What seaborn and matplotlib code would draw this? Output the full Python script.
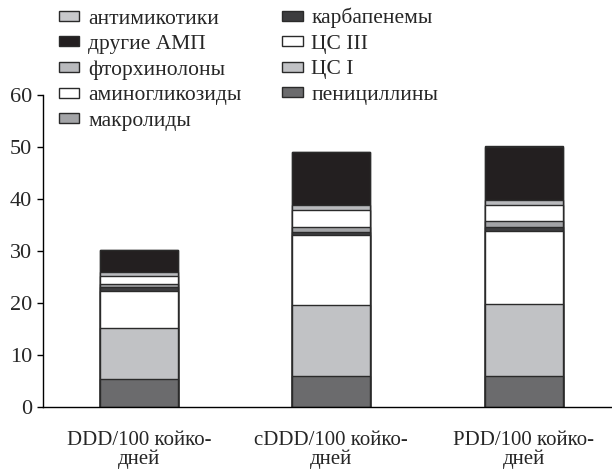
import matplotlib
matplotlib.use("Agg")
import matplotlib.pyplot as plt
import matplotlib.patches as mpatches
import numpy as np
import pandas as pd
import seaborn as sns

# metrics on the x axis
metrics = ["DDD/100 койко-\nдней", "cDDD/100 койко-\nдней", "PDD/100 койко-\nдней"]

# stacked layers, bottom to top
penicillins = [5.4, 6.0, 5.9]
cs1 = [9.8, 13.7, 14.0]
cs3 = [7.2, 13.4, 14.0]
carbapenems = [0.6, 0.6, 0.8]
macrolides = [0.7, 1.0, 1.0]
aminoglycosides = [1.4, 3.2, 3.2]
fluoroquinolones = [0.9, 1.0, 0.9]
other_amp = [4.1, 10.1, 10.2]
antimycotics = [0.1, 0.1, 0.1]

layers = [
    ("пенициллины", penicillins, "#6b6b6d"),
    ("ЦС I", cs1, "#c1c2c5"),
    ("ЦС III", cs3, "#ffffff"),
    ("карбапенемы", carbapenems, "#3c3c3e"),
    ("макролиды", macrolides, "#a3a4a7"),
    ("аминогликозиды", aminoglycosides, "#ffffff"),
    ("фторхинолоны", fluoroquinolones, "#b9babd"),
    ("другие АМП", other_amp, "#231f20"),
    ("антимикотики", antimycotics, "#c8c9cc"),
]

sns.set_style("white")
plt.rcParams["font.family"] = ["Liberation Serif", "DejaVu Serif"]
plt.rcParams["font.size"] = 15

fig = plt.figure(figsize=(6.12, 4.72), dpi=100)
ax = fig.add_axes([43 / 612, 65 / 472, 1 - 43 / 612, 312 / 472])

# draw cumulative totals from the top layer down so each layer covers the rest
cum = np.cumsum(np.array([l[1] for l in layers]), axis=0)
for i in range(len(layers) - 1, -1, -1):
    df = pd.DataFrame({"metric": metrics, "value": cum[i]})
    sns.barplot(data=df, x="metric", y="value", color=layers[i][2],
                saturation=1, width=0.405, edgecolor="#2a2a2a",
                linewidth=1.0, ax=ax)

ax.set_ylim(0, 60)
ax.set_xlim(-0.5, 2.46)
ax.set_yticks(range(0, 61, 10))
ax.set_xlabel("")
ax.set_ylabel("")
sns.despine(ax=ax)
for s in ["left", "bottom"]:
    ax.spines[s].set_color("black")
    ax.spines[s].set_linewidth(1.0)
ax.tick_params(axis="y", left=True, length=4, width=1.0, pad=4, color="black",
               labelsize=16)
ax.tick_params(axis="x", length=0, pad=17, labelsize=15)
for t in ax.get_xticklabels():
    t.set_linespacing(1.0)

# legend: reverse stacking order, two columns
handles = [mpatches.Patch(facecolor=c, edgecolor="#2a2a2a", linewidth=1.0, label=n)
           for n, v, c in layers[::-1]]
fig.legend(handles=handles, ncol=2, loc="upper left",
           bbox_to_anchor=(59 / 612, 1 - 8 / 472), frameon=False,
           prop={"size": 15.5},
           borderpad=0, borderaxespad=0, handlelength=0.95, handleheight=0.33,
           handletextpad=0.4, labelspacing=0.3, columnspacing=1.9)

fig.savefig("out.png", dpi=100)
